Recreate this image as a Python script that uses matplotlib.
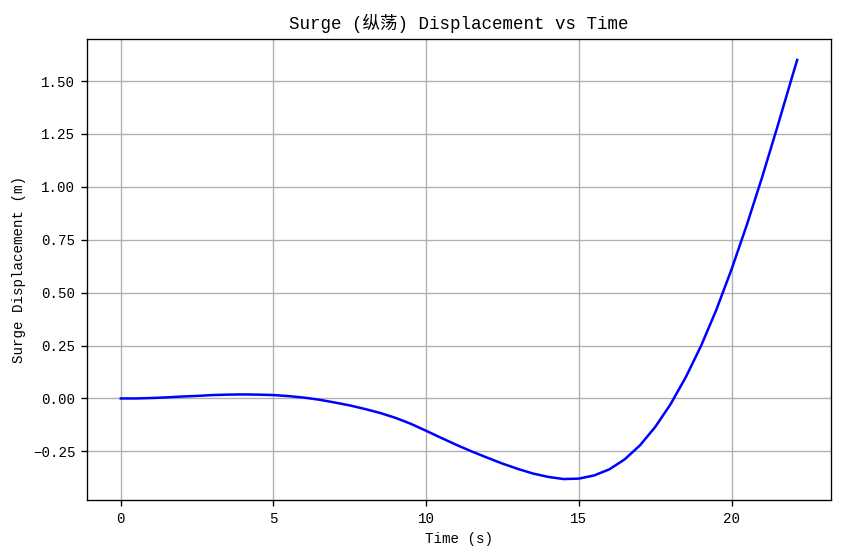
import matplotlib
matplotlib.use("Agg")
import matplotlib.pyplot as plt

plt.rcParams['font.family'] = ['Liberation Mono', 'Noto Sans CJK SC', 'DejaVu Sans']
plt.rcParams['axes.unicode_minus'] = True

time_s = [0, 0.5, 1, 1.5, 2, 2.5, 3, 3.5, 4, 4.5, 5, 5.5, 6, 6.5, 7, 7.5, 8, 8.5,
          9, 9.5, 10, 10.5, 11, 11.5, 12, 12.5, 13, 13.5, 14, 14.5, 15, 15.5, 16,
          16.5, 17, 17.5, 18, 18.5, 19, 19.5, 20, 20.5, 21, 21.5, 22, 22.15]
surge_m = [0.000, 0.000, 0.002, 0.005, 0.009, 0.012, 0.016, 0.018, 0.019, 0.018,
           0.016, 0.011, 0.004, -0.006, -0.019, -0.033, -0.050, -0.069, -0.092,
           -0.120, -0.153, -0.187, -0.220, -0.251, -0.280, -0.308, -0.333, -0.355,
           -0.371, -0.381, -0.379, -0.364, -0.335, -0.288, -0.222, -0.135, -0.028,
           0.100, 0.248, 0.418, 0.610, 0.820, 1.045, 1.283, 1.528, 1.600]

title = "Surge (纵荡) Displacement vs Time"
xlabel = "Time (s)"
ylabel = "Surge Displacement (m)"

fig = plt.figure(figsize=(842 / 120, 558 / 120), dpi=120)
ax = fig.add_axes([87 / 842, 1 - 500 / 558, (831 - 87) / 842, (500 - 39) / 558])
ax.plot(time_s, surge_m, color='blue', linewidth=1.5)
ax.set_title(title, fontsize=10.5)
ax.set_xlabel(xlabel, fontsize=8.5)
ax.set_ylabel(ylabel, fontsize=8.5)
ax.tick_params(labelsize=8.5)
ax.grid(True)
fig.savefig("out.png", dpi=120)
